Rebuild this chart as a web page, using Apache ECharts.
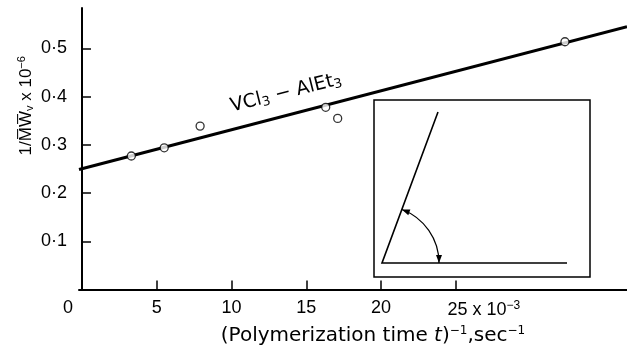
<!DOCTYPE html>
<html>
<head>
<meta charset="utf-8">
<script src="https://cdn.jsdelivr.net/npm/echarts@6/dist/echarts.min.js"></script>
<style>
  html, body { margin: 0; padding: 0; background: #fff; }
  #chart { width: 627px; height: 351px; }
</style>
</head>
<body>
<div id="chart"></div>
<script>
// measured points: 1/t (x 10^-3 sec^-1) vs 1/Mv (x 10^-6)
const invTime = [3.3, 5.5, 7.9, 16.3, 17.1, 32.3]
const invMw = [0.277, 0.294, 0.339, 0.378, 0.355, 0.514]
// fitted straight line, from y axis to right edge
const fitX = [-0.2, 36.45]
const fitY = [0.249, 0.545]
const xTicks = [5, 10, 15, 20, 25]
const xLabels = [0, 5, 10, 15, 20, 25]
const yTicks = [0.1, 0.2, 0.3, 0.4, 0.5]

const font = 'Liberation Sans'
const wide = 'DejaVu Sans'
const chart = echarts.init(document.getElementById('chart'))

// inset sketch (angle drawing), pixel geometry
const vx = 382, vy = 263, R = 57
const slantEnd = [438, 112]
const a0 = Math.atan2(slantEnd[1] - vy, slantEnd[0] - vx)
const arrow = (tip, dir) => {
  const L = 8, W = 3
  const bx = tip[0] - dir[0] * L, by = tip[1] - dir[1] * L
  return [tip, [bx - dir[1] * W, by + dir[0] * W], [bx + dir[1] * W, by - dir[0] * W]]
}
const tipA = [vx + R * Math.cos(a0), vy + R * Math.sin(a0)]
const tipB = [vx + R, vy]

const option = {
  animation: false,
  backgroundColor: '#fff',
  grid: { left: 79, right: 0, top: 8, bottom: 57 },
  xAxis: {
    type: 'value',
    min: -0.2,
    max: 36.45,
    splitLine: { show: false },
    axisLine: { onZero: false, lineStyle: { color: '#000', width: 2 } },
    axisTick: { inside: true, length: 9, customValues: xTicks, lineStyle: { color: '#000', width: 1.5 } },
    axisLabel: {
      customValues: xLabels,
      margin: 10,
      color: '#000',
      fontFamily: font,
      fontSize: 18,
      formatter: v => {
        if (v === 0) return '{z|0}'
        if (v === 25) return '{p|25 x 10}{s|−3}'
        return String(v)
      },
      rich: {
        z: { fontFamily: font, fontSize: 18, color: '#000', padding: [0, 28, 0, 0] },
        p: { fontFamily: font, fontSize: 18, color: '#000', padding: [0, 0, 0, 56] },
        s: { fontFamily: font, fontSize: 12, color: '#000', padding: [0, 0, 10, 0] }
      }
    },
    name: '{n|(Polymerization time }{i|t}{n|)}{s|−1}{n|,sec}{s|−1}',
    nameLocation: 'middle',
    nameGap: 35,
    nameMoveOverlap: false,
    nameTextStyle: {
      padding: [0, 0, 0, 40],
      rich: {
        n: { fontFamily: wide, fontSize: 20, color: '#000' },
        i: { fontFamily: wide, fontSize: 20, fontStyle: 'italic', color: '#000' },
        s: { fontFamily: wide, fontSize: 12, color: '#000', padding: [0, 0, 11, 0] }
      }
    }
  },
  yAxis: {
    type: 'value',
    min: 0,
    max: 0.584,
    splitLine: { show: false },
    axisLine: { lineStyle: { color: '#000', width: 2 } },
    axisTick: { inside: true, length: 9, customValues: yTicks, lineStyle: { color: '#000', width: 1.5 } },
    axisLabel: {
      customValues: yTicks,
      margin: 12,
      color: '#000',
      fontFamily: font,
      fontSize: 18,
      formatter: v => v.toFixed(1).replace('.', '·')
    },
    name: '{n|1/M\u0305W\u0305}{v|v}{n| x 10}{s|−6}',
    nameLocation: 'middle',
    nameRotate: 90,
    nameGap: 42,
    nameMoveOverlap: false,
    nameTextStyle: {
      padding: [0, 0, 0, 86],
      rich: {
        n: { fontFamily: font, fontSize: 17, color: '#000' },
        v: { fontFamily: font, fontSize: 11, color: '#000', padding: [6, 0, 0, 0] },
        s: { fontFamily: font, fontSize: 11, color: '#000', padding: [0, 0, 10, 0] }
      }
    }
  },
  series: [
    {
      type: 'line',
      data: fitX.map((x, i) => [x, fitY[i]]),
      symbol: 'none',
      lineStyle: { color: '#000', width: 3 },
      z: 2
    },
    {
      type: 'scatter',
      data: invTime.map((x, i) => [x, invMw[i]]),
      symbol: 'circle',
      symbolSize: 8,
      itemStyle: { color: '#fff', borderColor: '#000', borderWidth: 1.3 },
      z: 3
    }
  ],
  graphic: [
    {
      type: 'text',
      x: 286, y: 93,
      rotation: 14 * Math.PI / 180,
      style: {
        text: '{n|VCl}{s|3}{n| − AlEt}{s|3}',
        align: 'center',
        verticalAlign: 'middle',
        rich: {
          n: { fontFamily: wide, fontSize: 19, fill: '#000' },
          s: { fontFamily: wide, fontSize: 13, fill: '#000', padding: [8, 0, 0, 0] }
        }
      }
    },
    {
      type: 'rect',
      shape: { x: 374, y: 100, width: 216, height: 177 },
      style: { fill: '#fff', stroke: '#000', lineWidth: 1.5 }
    },
    {
      type: 'polyline',
      shape: { points: [slantEnd, [vx, vy], [567, vy]] },
      style: { fill: null, stroke: '#000', lineWidth: 1.6 }
    },
    {
      type: 'arc',
      shape: { cx: vx, cy: vy, r: R, startAngle: a0, endAngle: 0, clockwise: true },
      style: { fill: null, stroke: '#000', lineWidth: 1.2 }
    },
    {
      type: 'polygon',
      shape: { points: arrow(tipA, [Math.sin(a0), -Math.cos(a0)]) },
      style: { fill: '#000' }
    },
    {
      type: 'polygon',
      shape: { points: arrow(tipB, [0, 1]) },
      style: { fill: '#000' }
    }
  ]
}
chart.setOption(option)
</script>
</body>
</html>
